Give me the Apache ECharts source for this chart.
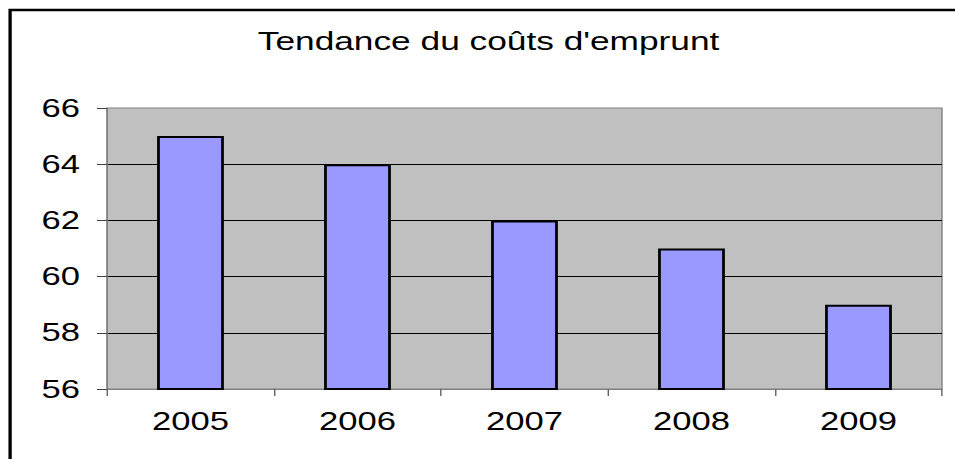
<!DOCTYPE html>
<html>

<head>
    <meta charset="utf-8">
    <title>Tendance du coûts d'emprunt</title>
    <script src="https://cdn.jsdelivr.net/npm/echarts@6/dist/echarts.min.js"></script>
    <style>
        html,
        body {
            margin: 0;
            padding: 0;
            background: #fff;
            overflow: hidden;
        }

        /* the original picture is stretched sideways, so the chart is drawn narrower and scaled */
        #chart {
            width: 690px;
            height: 459px;
            transform: scaleX(1.38406);
            transform-origin: 0 0;
        }
    </style>
</head>

<body>
    <div id="chart"></div>
    <script type="text/javascript">
        var titleText = "Tendance du coûts d'emprunt";
        var years = ['2005', '2006', '2007', '2008', '2009'];
        var costs = [65, 64, 62, 61, 59];
        var yMin = 56, yMax = 66, yStep = 2;

        var font = '"Liberation Sans", Arial, sans-serif';

        var myChart = echarts.init(document.getElementById('chart'), null, { renderer: 'svg' });
        var option = {
            animation: false,
            backgroundColor: '#fff',
            title: {
                text: titleText,
                left: 348,
                top: 23,
                textAlign: 'center',
                textStyle: {
                    fontFamily: font,
                    fontSize: 25.5,
                    fontWeight: 'normal',
                    color: '#000'
                }
            },
            graphic: [{
                // outer chart frame (only left and top are in view)
                type: 'rect',
                shape: { x: 7.3, y: 10, width: 2000, height: 2000 },
                style: { fill: 'none', stroke: '#000', lineWidth: 2.4 },
                silent: true
            }],
            grid: {
                left: 77.3,
                right: 9.4,
                top: 108,
                bottom: 70,
                show: true,
                backgroundColor: '#c0c0c0',
                borderColor: '#808080',
                borderWidth: 1
            },
            xAxis: {
                type: 'category',
                data: years,
                boundaryGap: true,
                axisLine: { lineStyle: { color: '#808080', width: 1 } },
                axisTick: { show: true, length: 7, lineStyle: { color: '#606060' } },
                axisLabel: {
                    margin: 20,
                    fontFamily: font,
                    fontSize: 25,
                    color: '#000'
                },
                splitLine: { show: false }
            },
            yAxis: {
                type: 'value',
                min: yMin,
                max: yMax,
                interval: yStep,
                axisLine: { show: true, lineStyle: { color: '#808080', width: 1 } },
                axisTick: { show: true, length: 7.2, lineStyle: { color: '#404040' } },
                axisLabel: {
                    margin: 19.5,
                    fontFamily: font,
                    fontSize: 25,
                    color: '#000'
                },
                splitLine: {
                    show: true,
                    showMinLine: false,
                    showMaxLine: false,
                    lineStyle: { color: '#000', width: 1 }
                }
            },
            series: [{
                type: 'bar',
                data: costs,
                barCategoryGap: '60%',
                itemStyle: {
                    color: '#9999ff',
                    borderColor: '#000',
                    borderWidth: 2
                }
            }]
        };
        myChart.setOption(option);
    </script>
</body>

</html>
